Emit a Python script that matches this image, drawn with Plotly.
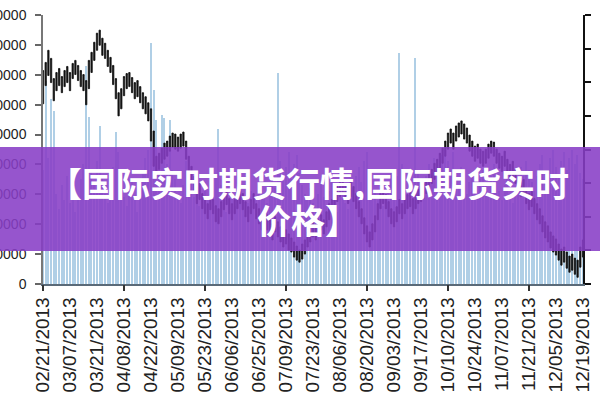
import plotly.graph_objects as go

# ---- data ----
date_labels = ["02/21/2013", "03/07/2013", "03/21/2013", "04/08/2013", "04/22/2013",
               "05/09/2013", "05/23/2013", "06/06/2013", "06/25/2013", "07/09/2013",
               "07/23/2013", "08/06/2013", "08/20/2013", "09/03/2013", "09/17/2013",
               "10/10/2013", "10/24/2013", "11/07/2013", "11/21/2013", "12/05/2013",
               "12/19/2013"]

price_high = [3835, 3859, 3895, 3871, 3811, 3829, 3841, 3817, 3835, 3847,
              3829, 3856, 3865, 3850, 3835, 3823, 3805, 3865, 3889, 3919,
              3946, 3955, 3931, 3916, 3895, 3874, 3850, 3811, 3769, 3781,
              3817, 3826, 3829, 3814, 3799, 3805, 3787, 3769, 3757, 3739,
              3721, 3655, 3580, 3589, 3604, 3619, 3625, 3640, 3649, 3646,
              3637, 3646, 3652, 3625, 3580, 3550, 3520, 3487, 3499, 3469,
              3454, 3439, 3466, 3451, 3433, 3424, 3445, 3466, 3481, 3454,
              3439, 3451, 3466, 3481, 3469, 3445, 3430, 3451, 3469, 3439,
              3424, 3409, 3421, 3406, 3391, 3379, 3400, 3385, 3370, 3355,
              3361, 3349, 3337, 3325, 3313, 3301, 3319, 3331, 3355, 3370,
              3385, 3376, 3391, 3406, 3391, 3415, 3439, 3451, 3475, 3490,
              3505, 3511, 3496, 3481, 3505, 3490, 3469, 3445, 3424, 3397,
              3373, 3355, 3379, 3403, 3439, 3469, 3481, 3466, 3445, 3424,
              3415, 3430, 3451, 3439, 3451, 3466, 3475, 3454, 3469, 3481,
              3490, 3499, 3511, 3529, 3541, 3559, 3571, 3589, 3604, 3625,
              3649, 3661, 3649, 3670, 3679, 3685, 3676, 3664, 3643, 3625,
              3610, 3616, 3601, 3595, 3601, 3616, 3625, 3622, 3601, 3589,
              3580, 3595, 3571, 3556, 3565, 3541, 3520, 3505, 3511, 3484,
              3469, 3475, 3454, 3439, 3424, 3403, 3385, 3373, 3355, 3343,
              3334, 3319, 3304, 3310, 3295, 3283, 3289, 3277, 3271, 3310,
              3331]

price_low = [3736, 3790, 3820, 3799, 3745, 3775, 3790, 3769, 3787, 3799,
             3775, 3811, 3823, 3805, 3787, 3775, 3733, 3781, 3829, 3865,
             3895, 3910, 3880, 3871, 3847, 3829, 3793, 3751, 3700, 3721,
             3760, 3781, 3787, 3769, 3751, 3757, 3739, 3721, 3706, 3685,
             3625, 3550, 3529, 3541, 3559, 3571, 3580, 3595, 3607, 3601,
             3595, 3604, 3610, 3571, 3529, 3499, 3469, 3439, 3451, 3424,
             3409, 3394, 3421, 3409, 3385, 3379, 3400, 3421, 3436, 3409,
             3391, 3409, 3424, 3439, 3421, 3400, 3385, 3409, 3424, 3394,
             3379, 3361, 3379, 3361, 3349, 3331, 3355, 3340, 3325, 3310,
             3319, 3301, 3295, 3280, 3271, 3265, 3274, 3289, 3310, 3325,
             3340, 3331, 3349, 3361, 3349, 3370, 3391, 3409, 3430, 3445,
             3460, 3469, 3454, 3439, 3460, 3445, 3424, 3400, 3379, 3349,
             3325, 3310, 3331, 3355, 3391, 3424, 3439, 3424, 3400, 3379,
             3370, 3385, 3409, 3394, 3409, 3424, 3430, 3409, 3424, 3439,
             3445, 3454, 3469, 3481, 3499, 3511, 3529, 3541, 3559, 3580,
             3601, 3619, 3601, 3625, 3637, 3646, 3631, 3619, 3595, 3580,
             3565, 3574, 3559, 3550, 3559, 3574, 3589, 3580, 3559, 3544,
             3535, 3550, 3529, 3511, 3520, 3499, 3475, 3460, 3469, 3439,
             3421, 3430, 3409, 3391, 3379, 3355, 3337, 3325, 3307, 3295,
             3286, 3271, 3256, 3265, 3247, 3235, 3241, 3229, 3220, 3250,
             3280]

volume = [38000, 68000, 42000, 62000, 58000, 30000, 25000, 33000, 28000, 36000,
          27000, 31000, 24000, 29000, 35000, 40000, 73000, 56000, 38000, 33000,
          41000, 53000, 36000, 30000, 27000, 34000, 39000, 51000, 44000, 32000,
          29000, 26000, 31000, 35000, 28000, 24000, 33000, 37000, 42000, 45000,
          80600, 65000, 55000, 43000, 56500, 55500, 40000, 55000, 38000, 35000,
          30000, 27000, 33000, 41000, 38000, 35000, 29000, 32000, 26000, 30000,
          34000, 28000, 25000, 31000, 36000, 52000, 33000, 27000, 24000, 29000,
          32000, 26000, 30000, 35000, 28000, 23000, 27000, 31000, 25000, 29000,
          33000, 36000, 30000, 27000, 34000, 38000, 32000, 70600, 41000, 36000,
          39000, 44000, 35000, 40000, 43000, 37000, 33000, 30000, 28000, 32000,
          27000, 25000, 30000, 34000, 29000, 26000, 31000, 35000, 28000, 24000,
          30000, 33000, 27000, 25000, 29000, 32000, 36000, 39000, 34000, 41000,
          44000, 38000, 35000, 31000, 28000, 33000, 26000, 30000, 34000, 37000,
          32000, 36000, 77300, 40000, 35000, 30000, 33000, 28000, 75600, 38000,
          34000, 31000, 36000, 40000, 37000, 42000, 39000, 35000, 43000, 45000,
          41000, 38000, 44000, 36000, 33000, 39000, 35000, 30000, 34000, 37000,
          32000, 29000, 35000, 38000, 33000, 30000, 36000, 40000, 34000, 31000,
          28000, 33000, 37000, 30000, 27000, 32000, 35000, 39000, 36000, 41000,
          38000, 34000, 31000, 36000, 40000, 43000, 37000, 35000, 42000, 45000,
          39000, 36000, 41000, 44000, 38000, 42000, 45000, 40000, 43000, 37000,
          35000]

volume_ticks = [0, 10000, 20000, 30000, 40000, 50000, 60000, 70000, 80000, 90000]
price_ticks = [3200, 3300, 3400, 3500, 3600, 3700, 3800, 3900, 4000]

title_line1 = "【国际实时期货行情,国际期货实时"
title_line2 = "价格】"

# ---- figure ----
day_index = list(range(len(price_high)))
label_pos = day_index[::10]
major_pos = day_index[:181:30]

fig = go.Figure()

fig.add_trace(go.Bar(
    x=day_index, y=volume, width=0.45,
    marker=dict(color="rgb(176,207,230)", line=dict(width=0)),
    xaxis="x", yaxis="y", showlegend=False, hoverinfo="skip"))

fig.add_trace(go.Scatter(
    x=[0], y=[0], mode="markers", marker=dict(opacity=0),
    xaxis="x2", yaxis="y", showlegend=False, hoverinfo="skip"))

fig.add_trace(go.Candlestick(
    x=day_index, open=price_low, high=price_high, low=price_low, close=price_high,
    increasing=dict(line=dict(color="#111111", width=0.8), fillcolor="#111111"),
    decreasing=dict(line=dict(color="#111111", width=0.8), fillcolor="#111111"),
    whiskerwidth=0, xaxis="x", yaxis="y2", showlegend=False, hoverinfo="skip"))

x_range = [0, len(price_high) - 1]

fig.update_layout(
    template="none",
    width=600, height=400,
    margin=dict(l=43, r=17, t=15, b=116, autoexpand=False),
    paper_bgcolor="white", plot_bgcolor="white",
    showlegend=False,
    bargap=0,
    xaxis=dict(
        range=x_range, rangeslider=dict(visible=False),
        tickmode="array", tickvals=label_pos, ticktext=date_labels,
        tickangle=-90, ticks="", ticklabelstandoff=4,
        tickfont=dict(family="Liberation Sans, Arial, sans-serif", size=19, color="#222"),
        showline=True, linecolor="#5a6a78", linewidth=1.5,
        showgrid=False, zeroline=False, automargin=False),
    xaxis2=dict(
        range=x_range, overlaying="x", anchor="y", side="bottom",
        tickmode="array", tickvals=major_pos,
        ticks="outside", ticklen=6, tickwidth=1.5, tickcolor="#333",
        showticklabels=False, showline=False, showgrid=False, zeroline=False,
        automargin=False),
    yaxis=dict(
        range=[0, 90000], tickmode="array", tickvals=volume_ticks,
        tickformat="d", ticks="outside", ticklen=6, tickwidth=1.5, tickcolor="#666",
        ticklabelstandoff=6,
        tickfont=dict(family="Liberation Sans, Arial, sans-serif", size=14, color="#222"),
        showline=True, linecolor="#777", linewidth=1.5,
        showgrid=False, zeroline=False, automargin=False),
    yaxis2=dict(
        range=[3200, 4000], overlaying="y", side="right", anchor="x",
        tickmode="array", tickvals=price_ticks,
        ticks="outside", ticklen=6, tickwidth=1.5, tickcolor="#111",
        showticklabels=False, showline=True, linecolor="#111", linewidth=2,
        showgrid=False, zeroline=False, automargin=False),
)

# purple banner across the full width
fig.add_shape(type="rect", xref="paper", yref="paper",
              x0=-0.2, x1=1.2, y0=0.123, y1=0.509,
              fillcolor="rgba(136,62,198,0.88)", line=dict(width=0), layer="above")

fig.add_annotation(xref="paper", yref="paper", x=0.491, y=0.378,
                   text="<b>" + title_line1 + "</b>", showarrow=False, height=36,
                   font=dict(family="Noto Sans CJK SC", size=34, color="white"),
                   xanchor="center", yanchor="middle")
fig.add_annotation(xref="paper", yref="paper", x=0.491, y=0.24,
                   text="<b>" + title_line2 + "</b>", showarrow=False, height=36,
                   font=dict(family="Noto Sans CJK SC", size=34, color="white"),
                   xanchor="center", yanchor="middle")

fig.write_html("out.html",
               config={"displayModeBar": False},
               post_script="document.body.style.margin='0';document.body.style.overflow='hidden';")
